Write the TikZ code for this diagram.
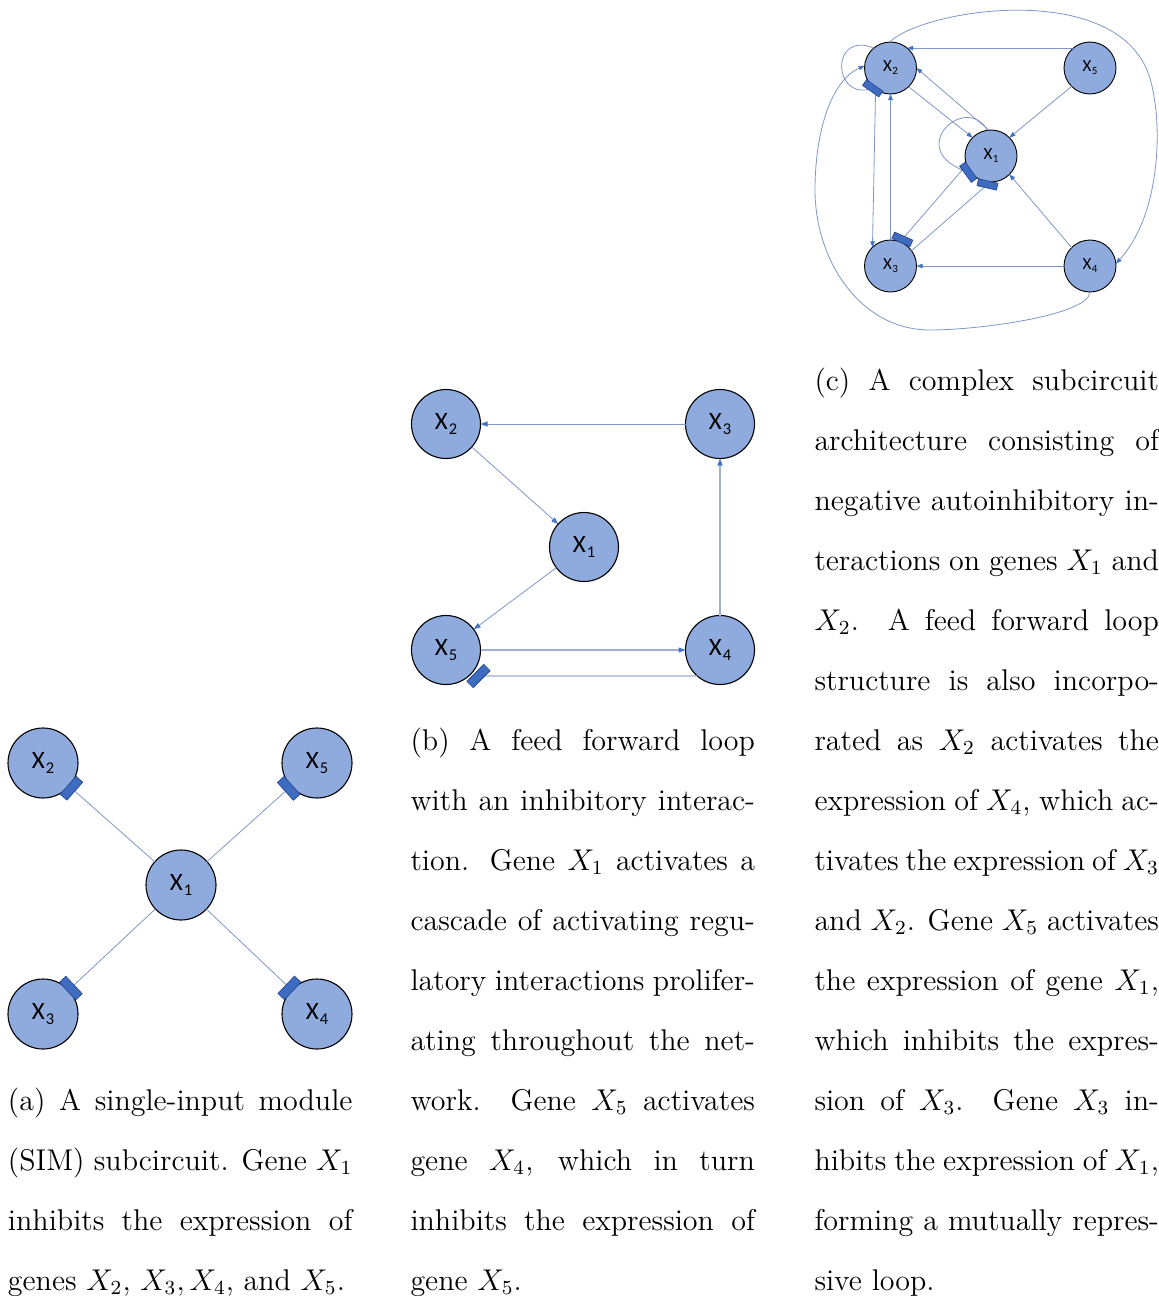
\documentclass[tikz,border=0pt]{standalone}
\usepackage{fontspec}
\newfontfamily\carl{Carlito}
\usetikzlibrary{arrows.meta,calc}

\definecolor{nodefill}{RGB}{143,170,220}
\definecolor{linkcol}{RGB}{128,150,198}
\definecolor{linkgray}{RGB}{160,175,205}
\definecolor{tipcol}{RGB}{68,114,196}
\definecolor{barfill}{RGB}{62,108,192}
\definecolor{barline}{RGB}{36,68,138}

% gene labels: X with a lowered index
\newcommand{\gxb}[1]{X\kern1pt\raisebox{-4.5pt}{\fontsize{16.5}{16.5}\selectfont #1}}
\newcommand{\gxs}[1]{X\kern0.6pt\raisebox{-3pt}{\fontsize{11}{11}\selectfont #1}}
% one justified caption line
\newcommand{\jline}[1]{\makebox[137.8pt][s]{#1}}

\tikzset{
  gene/.style={circle, draw=black, line width=1.1pt, fill=nodefill, inner sep=0pt, outer sep=0pt},
  genebig/.style={gene, minimum size=70pt, font=\carl\fontsize{25}{25}\selectfont},
  genemid/.style={gene, minimum size=69pt, font=\carl\fontsize{25}{25}\selectfont},
  genesmall/.style={gene, minimum size=52pt, line width=0.9pt, font=\carl\fontsize{17}{17}\selectfont},
  link/.style={draw=linkcol, line width=0.8pt},
  heavylink/.style={draw=linkgray, line width=1.1pt},
  act/.style={link, -{Triangle[length=7pt,width=5pt,color=tipcol]}},
  acts/.style={link, -{Triangle[length=6pt,width=4.5pt,color=tipcol]}},
  ibar/.style={rectangle, fill=barfill, draw=barline, line width=0.6pt, inner sep=0pt,
               minimum width=9pt, minimum height=24pt},
  ibars/.style={ibar, minimum width=7pt, minimum height=20pt},
  captionline/.style={anchor=base west, inner sep=0pt, scale=2.5,
                      font=\fontsize{12}{14.5}\selectfont},
}

\begin{document}
\begin{tikzpicture}[x=1pt,y=-1pt]
\useasboundingbox (0,0) rectangle (1159,1296);

% ---------- (a) single-input module ----------
\node[genebig] (A1) at (181,885) {\gxb{1}};
\node[genebig] (A2) at (43,763) {\gxb{2}};
\node[genebig] (A5) at (317,763) {\gxb{5}};
\node[genebig] (A3) at (43,1014) {\gxb{3}};
\node[genebig] (A4) at (317,1014) {\gxb{4}};
\foreach \t in {2,3,4,5}{
  \coordinate (pA\t) at ($(A\t.center)!38pt!(A1.center)$);
  \draw[link] (A1) -- (pA\t);
  \path (A\t.center) -- (pA\t) node[pos=1, sloped, ibar] (bA\t) {};
}

% ---------- (b) feed forward loop ----------
\node[genemid] (B2) at (446,424) {\gxb{2}};
\node[genemid] (B3) at (720,424) {\gxb{3}};
\node[genemid] (B1) at (584,547) {\gxb{1}};
\node[genemid] (B5) at (446,650) {\gxb{5}};
\node[genemid] (B4) at (720,650) {\gxb{4}};
\draw[act] (B3) -- (B2);
\draw[act] (B2) -- (B1);
\draw[act] (B1) -- (B5);
\draw[act, heavylink] (B4) -- (B3);
\draw[act, heavylink] (B5) -- (B4);
\coordinate (pB5) at (478.5,676);
\draw[heavylink] (B4.229) -- (pB5);
\node[ibar, rotate=-45] (bB5) at (pB5) {};

% ---------- (c) complex subcircuit ----------
\node[genesmall] (C2) at (890.5,68) {\gxs{2}};
\node[genesmall] (C5) at (1090,68) {\gxs{5}};
\node[genesmall] (C1) at (991,156) {\gxs{1}};
\node[genesmall] (C3) at (890.5,266) {\gxs{3}};
\node[genesmall] (C4) at (1090,266) {\gxs{4}};

\coordinate (pC2) at (872.7,88.3);
\coordinate (pC1a) at (968.3,172.3);
\coordinate (pC1b) at (987.5,184.5);
\coordinate (pC3) at (902.3,239.3);
\coordinate (m24) at (1151,82);
\coordinate (w1) at (930,330);
\coordinate (w2) at (815,190);

\draw[acts] (C5.130) -- (C2.50);
\draw[acts] (C2.235) -- (C3.134);
\draw[acts] (C3.north) -- (C2.south);
\draw[acts] (C2.-46) -- (C1.135);
\draw[acts] (C1.95) -- (C2.east);
\draw[acts] (C5.225) -- (C1.45);
\draw[acts] (C4.135) -- (C1.-45);
\draw[acts] (C4.west) -- (C3.east);
\draw[link] (C1.200) -- (pC3);
\draw[link] (C3.36) -- (pC1b);
% autoinhibition loops
\draw[link] (C2.130) .. controls (830,30) and (832,102) .. (pC2);
\draw[link] (C1.98) .. controls (966,92) and (902,150) .. (pC1a);
% long-range connections around the outside
\draw[acts] (C2.92) .. controls (925,8) and (1125,-22) .. (m24)
            .. controls (1163,128) and (1160,215) .. (C4.5);
\draw[acts] (C4.south) .. controls (1089,315) and (980,330) .. (w1)
            .. controls (860,330) and (815,260) .. (w2)
            .. controls (815,130) and (832,80) .. (C2.175);

\node[ibars, rotate=-125] (bC2) at (pC2) {};
\node[ibars, rotate=-144] (bC1a) at (pC1a) {};
\node[ibars, rotate=-103] (bC1b) at (pC1b) {};
\node[ibars, rotate=66] (bC3) at (pC3) {};

% ---------- captions ----------
\node[captionline] (ca1) at (7.5,1110) {\jline{(a) A single-input module}};
\node[captionline] (ca2) at (7.5,1170) {\jline{(SIM) subcircuit. Gene $X_1$}};
\node[captionline] (ca3) at (7.5,1230) {\jline{inhibits the expression of}};
\node[captionline] (ca4) at (7.5,1290) {\makebox[134.8pt][s]{genes $X_2$, $X_3, X_4$, and $X_5$.}};

\node[captionline] (cb1) at (410,750) {\jline{(b) A feed forward loop}};
\node[captionline] (cb2) at (410,810) {\jline{with an inhibitory interac-}};
\node[captionline] (cb3) at (410,870) {\jline{tion. Gene $X_1$ activates a}};
\node[captionline] (cb4) at (410,930) {\jline{cascade of activating regu-}};
\node[captionline] (cb5) at (410,990) {\jline{latory interactions prolifer-}};
\node[captionline] (cb6) at (410,1050) {\jline{ating throughout the net-}};
\node[captionline] (cb7) at (410,1110) {\jline{work. Gene $X_5$ activates}};
\node[captionline] (cb8) at (410,1170) {\jline{gene $X_4$, which in turn}};
\node[captionline] (cb9) at (410,1230) {\jline{inhibits the expression of}};
\node[captionline] (cb10) at (410,1290) {gene $X_5$.};

\node[captionline] (cc1) at (814,390) {\jline{(c) A complex subcircuit}};
\node[captionline] (cc2) at (814,450) {\jline{architecture consisting of}};
\node[captionline] (cc3) at (814,510) {\jline{negative autoinhibitory in-}};
\node[captionline] (cc4) at (814,570) {\jline{teractions on genes $X_1$ and}};
\node[captionline] (cc5) at (814,630) {\jline{$X_2$. A feed forward loop}};
\node[captionline] (cc6) at (814,690) {\jline{structure is also incorpo-}};
\node[captionline] (cc7) at (814,750) {\jline{rated as $X_2$ activates the}};
\node[captionline] (cc8) at (814,810) {\jline{expression of $X_4$, which ac-}};
\node[captionline] (cc9) at (814,870) {\jline{tivates the expression of $X_3$}};
\node[captionline] (cc10) at (814,930) {\jline{and $X_2$. Gene $X_5$ activates}};
\node[captionline] (cc11) at (814,990) {\jline{the expression of gene $X_1$,}};
\node[captionline] (cc12) at (814,1050) {\jline{which inhibits the expres-}};
\node[captionline] (cc13) at (814,1110) {\jline{sion of $X_3$. Gene $X_3$ in-}};
\node[captionline] (cc14) at (814,1170) {\jline{hibits the expression of $X_1$,}};
\node[captionline] (cc15) at (814,1230) {\jline{forming a mutually repres-}};
\node[captionline] (cc16) at (814,1290) {sive loop.};
\end{tikzpicture}
\end{document}
